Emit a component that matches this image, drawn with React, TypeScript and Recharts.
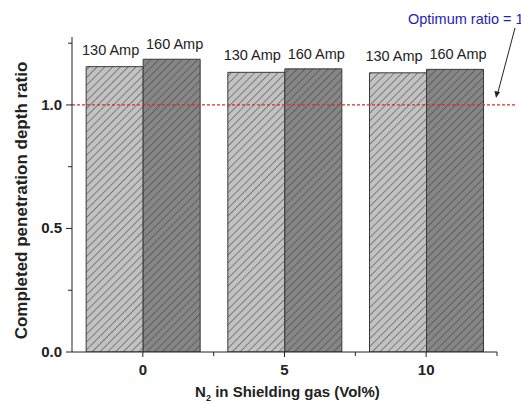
import { BarChart, Bar, XAxis, YAxis, ReferenceLine, LabelList, Label } from 'recharts';

const categories = ['0', '5', '10'];
const amp130 = [1.155, 1.132, 1.13];
const amp160 = [1.185, 1.146, 1.144];
const seriesNames = ['130 Amp', '160 Amp'];
const yTicks = [0, 0.25, 0.5, 0.75, 1.0, 1.25];
const optimumRatio = 1.0;

const W = 521;
const H = 403;
const margin = { top: 37, right: 24, left: 0, bottom: 0 };
const yAxisWidth = 72;
const band = (W - margin.right - yAxisWidth) / categories.length;
const font = '"Liberation Sans", Arial, sans-serif';

const data = categories.map((c, i) => ({ cat: c, a130: amp130[i], a160: amp160[i] }));

const YTick = (props: any) => {
  const { x, y, payload } = props;
  const v = payload.value as number;
  const major = Math.abs((v * 2) % 1) < 1e-6;
  return (
    <g>
      <line x1={x - (major ? 6 : 4)} x2={x} y1={y} y2={y} stroke="#222" strokeWidth={1} />
      {major && (
        <text x={x - 10} y={y + 5} textAnchor="end" fontFamily={font} fontWeight="bold" fontSize={15} fill="#222">
          {v.toFixed(1)}
        </text>
      )}
    </g>
  );
};

const XTick = (props: any) => {
  const { x, y, payload } = props;
  return (
    <g>
      <line x1={x} x2={x} y1={y} y2={y + 5} stroke="#222" strokeWidth={1} />
      <line x1={x + band / 2} x2={x + band / 2} y1={y} y2={y + 4} stroke="#222" strokeWidth={1} />
      <text x={x} y={y + 23} textAnchor="middle" fontFamily={font} fontWeight="bold" fontSize={15} fill="#222">
        {payload.value}
      </text>
    </g>
  );
};

// bar captions sit above each bar, nudged slightly apart as in the original
const barLabel = (name: string, lift: number, dx: number) => (p: any) => (
  <text x={p.x + p.width / 2 + dx} y={p.y - lift} textAnchor="middle" fontFamily={font} fontSize={14.5} fill="#222">
    {name}
  </text>
);

const OptimumLine = (p: any) => {
  const x1 = p.x1 ?? yAxisWidth;
  const x2 = p.x2 ?? W - margin.right;
  const y = p.y1 ?? 105;
  return (
    <g>
      <line x1={x1} x2={x2 + 19} y1={y} y2={y} stroke="#e02a2a" strokeWidth={1.2} strokeDasharray="3 2" />
      <text x={x2 - 89} y={y - 81} fontFamily={font} fontSize={14.5} fill="#2323b8">
        Optimum ratio = 1
      </text>
      <line x1={x2 + 18} y1={y - 77} x2={x2 + 0.5} y2={y - 11} stroke="#222" strokeWidth={1} />
      <polygon
        points={`${x2 - 1},${y - 7} ${x2 - 2.5},${y - 14} ${x2 + 3},${y - 13}`}
        fill="#222"
      />
    </g>
  );
};

export default function App() {
  return (
    <div style={{ position: 'absolute', left: 0, top: 0, width: W, height: H, background: '#fff' }}>
      <BarChart width={W} height={H} data={data} margin={margin} barGap={0} barCategoryGap="10%">
        <defs>
          <pattern id="hatchLight" width="5.5" height="5.5" patternUnits="userSpaceOnUse" patternTransform="rotate(45)">
            <rect width="5.5" height="5.5" fill="#c2c2c2" />
            <line x1="0" y1="0" x2="0" y2="5.5" stroke="#6a6a6a" strokeWidth="1.6" />
          </pattern>
          <pattern id="hatchDark" width="5.5" height="5.5" patternUnits="userSpaceOnUse" patternTransform="rotate(45)">
            <rect width="5.5" height="5.5" fill="#868686" />
            <line x1="0" y1="0" x2="0" y2="5.5" stroke="#555" strokeWidth="1.6" />
          </pattern>
        </defs>
        <XAxis
          dataKey="cat"
          height={51}
          tickSize={0}
          tickMargin={0}
          tick={<XTick />}
          axisLine={{ stroke: '#222', strokeWidth: 1 }}
          tickLine={false}
          interval={0}
        >
          <Label
            content={(lp: any) => {
              const vb = lp.viewBox || { x: yAxisWidth, y: 352, width: band * 3 };
              return (
                <text x={vb.x + vb.width / 2 + 3} y={vb.y + 45} textAnchor="middle" fontFamily={font} fontWeight="bold" fontSize={15} fill="#222">
                  <tspan>N</tspan>
                  <tspan dy={4} fontSize={9}>2</tspan>
                  <tspan dy={-4}> in Shielding gas (Vol%)</tspan>
                </text>
              );
            }}
          />
        </XAxis>
        <YAxis
          width={yAxisWidth}
          domain={[0, 1.275]}
          ticks={yTicks}
          tickSize={0}
          tickMargin={0}
          tick={<YTick />}
          tickLine={false}
          axisLine={{ stroke: '#222', strokeWidth: 1 }}
          allowDataOverflow
        >
          <Label
            content={(lp: any) => {
              const vb = lp.viewBox || { x: 0, y: 37, height: 315 };
              const cy = vb.y + vb.height / 2 + 6;
              return (
                <text
                  x={21}
                  y={cy}
                  transform={`rotate(-90 21 ${cy})`}
                  textAnchor="middle"
                  dominantBaseline="central"
                  fontFamily={font}
                  fontWeight="bold"
                  fontSize={17}
                  fill="#222"
                >
                  Completed penetration depth ratio
                </text>
              );
            }}
          />
        </YAxis>
        <Bar dataKey="a130" name={seriesNames[0]} fill="url(#hatchLight)" stroke="#3a3a3a" strokeWidth={1} isAnimationActive={false}>
          <LabelList dataKey="a130" content={barLabel(seriesNames[0], 12, -4)} />
        </Bar>
        <Bar dataKey="a160" name={seriesNames[1]} fill="url(#hatchDark)" stroke="#3a3a3a" strokeWidth={1} isAnimationActive={false}>
          <LabelList dataKey="a160" content={barLabel(seriesNames[1], 10, 3)} />
        </Bar>
        <ReferenceLine y={optimumRatio} shape={<OptimumLine />} ifOverflow="visible" />
      </BarChart>
    </div>
  );
}
